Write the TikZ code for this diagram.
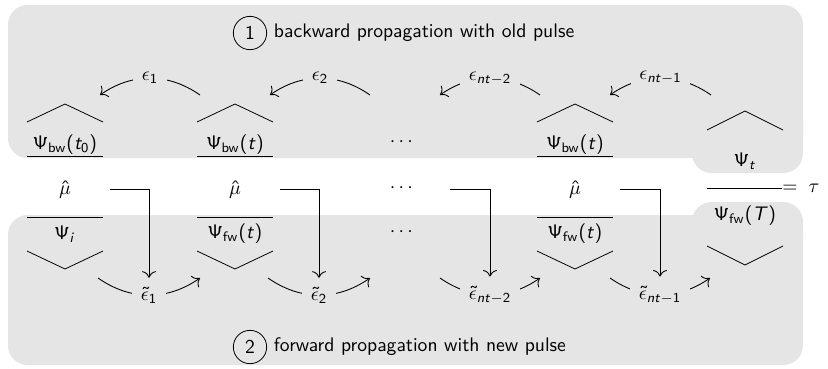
\documentclass[tikz,border=0pt]{standalone}
\usepackage{amsmath}
% sans-serif digits, parentheses and accents in math, as in slides
\DeclareSymbolFont{operators}{OT1}{cmss}{m}{n}
\SetSymbolFont{operators}{bold}{OT1}{cmss}{bx}{n}
\DeclareMathAlphabet{\mathsfit}{OT1}{cmss}{m}{sl}
\newcommand\wf{\mathsf{\Psi}}
\newcommand\sv[1]{\mathsfit{#1}}
\usetikzlibrary{arrows.meta}
\definecolor{regiongray}{gray}{0.9}
\begin{document}
\begin{tikzpicture}[x=0.51pt,y=-0.51pt,
  region/.style={fill=regiongray,rounded corners=10pt},
  lbl/.style={inner sep=0pt},
  elbl/.style={fill=regiongray,inner sep=4.5pt},
  numcirc/.style={draw,circle,minimum size=17pt,inner sep=0pt,font=\sffamily},
  ttl/.style={anchor=west,font=\sffamily},
  bar/.style={line width=0.5pt},
  conn/.style={-{To[scale=1.3]},line width=0.45pt}]
\useasboundingbox (0,0) rectangle (828,368);

% shaded regions of the two sweeps
\fill[region] (8,5) rectangle (803,158);
\fill[region] (692,100) rectangle (803,173);
\fill[region] (8,215) rectangle (803,365);
\fill[region] (692,202) rectangle (803,260);

% titles
\node[numcirc] (c1) at (250,33) {1};
\node[ttl] (t1) at (c1.east) {backward propagation with old pulse};
\node[numcirc] (c2) at (250,347) {2};
\node[ttl] (t2) at (c2.east) {forward propagation with new pulse};

% columns: backward states
\node[lbl] (b1) at (65,145) {$\wf_{\mathsf{bw}}(\sv{t}_0)$};
\node[lbl] (b2) at (235,145) {$\wf_{\mathsf{bw}}(\sv{t})$};
\node[lbl] (b3) at (403,142) {$\cdots$};
\node[lbl] (b4) at (575,145) {$\wf_{\mathsf{bw}}(\sv{t})$};
\node[lbl] (b5) at (745,161) {$\wf_{\sv{t}}$};

% dipole operator row
\node[lbl] (m1) at (65,190) {$\hat{\mu}$};
\node[lbl] (m2) at (235,190) {$\hat{\mu}$};
\node[lbl] (m3) at (403,188) {$\cdots$};
\node[lbl] (m4) at (575,190) {$\hat{\mu}$};

% forward states
\node[lbl] (f1) at (65,234) {$\wf_{\sv{i}}$};
\node[lbl] (f2) at (235,234) {$\wf_{\mathsf{fw}}(\sv{t})$};
\node[lbl] (f3) at (403,232) {$\cdots$};
\node[lbl] (f4) at (575,234) {$\wf_{\mathsf{fw}}(\sv{t})$};
\node[lbl] (f5) at (745,216) {$\wf_{\mathsf{fw}}(\sv{T})$};

% roofs, bars and cups
\foreach \cx in {65,235,575}{
  \draw (\cx-38,122) -- (\cx,104) -- (\cx+38,122);
  \draw[bar] (\cx-38,156) -- (\cx+38,156);
  \draw[bar] (\cx-38,217) -- (\cx+38,217);
  \draw (\cx-38,251) -- (\cx,269) -- (\cx+38,251);
}
\draw (707,130) -- (745,111) -- (783,130);
\draw (707,246) -- (745,265) -- (783,246);
\coordinate (ol) at (707,188);
\node[lbl,anchor=west] (tau) at (782,188) {$=\;\tau$};
\draw[bar] (ol) -- (tau.west);

% backward propagation steps
\foreach \s/\e/\lab/\n in {200/100/{\epsilon_{1}}/1,370/270/{\epsilon_{2}}/2,540/440/{\epsilon_{\sv{nt}-2}}/3,711/610/{\epsilon_{\sv{nt}-1}}/4}{
  \coordinate (bs\n) at (\s,95);
  \coordinate (be\n) at (\e,95);
  \draw[conn] (bs\n) to[bend right=35] node[elbl] (eb\n) {$\lab$} (be\n);
}

% forward propagation steps
\foreach \s/\e/\lab/\n in {98/200/{\tilde{\epsilon}_{1}}/1,268/370/{\tilde{\epsilon}_{2}}/2,440/540/{\tilde{\epsilon}_{\sv{nt}-2}}/3,610/710/{\tilde{\epsilon}_{\sv{nt}-1}}/4}{
  \coordinate (fs\n) at (\s,278);
  \coordinate (fe\n) at (\e,278);
  \draw[conn] (fs\n) to[bend right=35] node[elbl] (ef\n) {$\lab$} (fe\n);
}

% new pulse from the dipole expectation
\foreach \x/\n in {110/1,280/2,450/3,620/4}{
  \coordinate (ms\n) at (\x,189);
  \draw[conn] (ms\n) -| (ef\n.north);
}
\end{tikzpicture}
\end{document}
